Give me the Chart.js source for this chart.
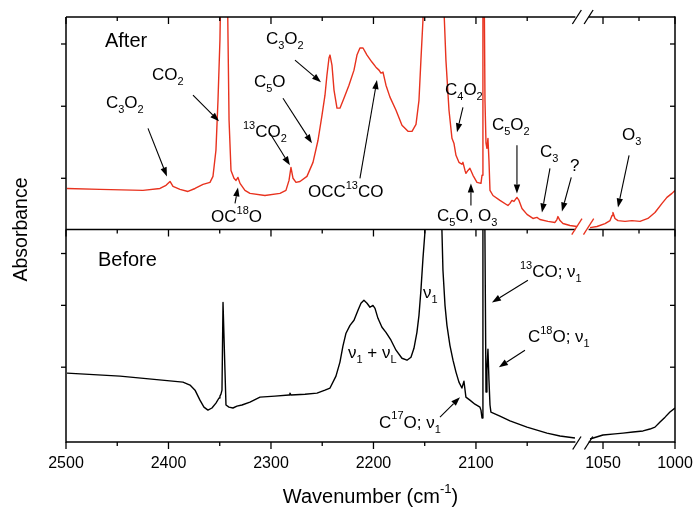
<!DOCTYPE html>
<html><head><meta charset="utf-8">
<script src="https://cdn.jsdelivr.net/npm/chart.js@4.4.0/dist/chart.umd.min.js"></script>
<style>html,body{margin:0;padding:0;background:#fff}#wrap{width:695px;height:508px}</style>
</head><body><div id="wrap"><canvas id="c" width="695" height="508"></canvas></div>
<script>
// ---------------- data (wavenumber in cm-1, absorbance in arbitrary units) ----------------
const afterHighWn = [2499.0,2466.8,2424.9,2408.3,2402.4,2398.5,2395.6,2388.8,2381.0,2374.1,2366.3,2359.5,2356.6,2353.7,2351.7,2349.8,2348.8,2347.8,2342.9,2341.9,2340.9,2339.0,2336.1,2334.1,2332.2,2330.2,2325.4,2320.5,2305.9,2291.2,2285.4,2282.4,2280.5,2278.5,2275.6,2271.7,2264.9,2259.0,2254.1,2250.2,2247.3,2245.4,2243.4,2242.4,2240.5,2238.5,2235.6,2232.7,2228.8,2223.9,2219.0,2216.1,2213.2,2210.2,2206.3,2201.5,2197.6,2194.6,2192.7,2190.7,2187.8,2183.9,2178.0,2172.2,2166.3,2162.4,2158.5,2155.6,2153.7,2151.7,2150.7,2132.2,2131.2,2129.3,2126.3,2123.4,2121.5,2119.5,2116.6,2113.7,2112.7,2110.7,2109.8,2107.8,2105.9,2102.9,2099.0,2095.1,2094.1,2093.2,2092.2,2091.2,2090.2,2089.3,2088.3,2087.3,2086.3,2083.4,2076.6,2068.8,2066.8,2064.9,2062.9,2060.0,2058.0,2055.1,2050.2,2044.4,2040.5,2037.6,2029.8,2022.9,2021.0,2020.0,2018.0,2015.1,2008.3,2001.5];
const afterHighAbs = [0.193,0.189,0.184,0.193,0.208,0.226,0.203,0.189,0.179,0.193,0.212,0.222,0.250,0.373,0.608,0.892,1.2,1.3,1.3,0.892,0.514,0.278,0.241,0.231,0.245,0.217,0.184,0.170,0.160,0.170,0.184,0.231,0.292,0.241,0.222,0.226,0.250,0.316,0.420,0.538,0.632,0.726,0.807,0.821,0.774,0.656,0.571,0.571,0.618,0.679,0.750,0.821,0.854,0.854,0.821,0.788,0.764,0.750,0.736,0.741,0.679,0.623,0.561,0.491,0.462,0.462,0.495,0.608,0.797,0.986,1.3,1.3,1.033,0.797,0.561,0.429,0.406,0.349,0.316,0.307,0.316,0.278,0.264,0.278,0.288,0.255,0.222,0.217,0.255,1.3,1.3,0.608,0.406,0.382,0.429,0.325,0.184,0.160,0.137,0.113,0.123,0.137,0.132,0.151,0.137,0.099,0.071,0.052,0.057,0.047,0.038,0.033,0.047,0.061,0.042,0.028,0.019,0.014];
const afterLowWn  = [1059.0,1054.2,1048.6,1045.1,1043.75,1043.1,1041.7,1039.6,1034.7,1029.9,1024.3,1018.8,1013.9,1009.0,1005.6,1002.1,1000.0];
const afterLowAbs = [0.009,0.014,0.028,0.042,0.066,0.080,0.052,0.042,0.038,0.042,0.038,0.052,0.080,0.123,0.151,0.170,0.184];

const beforeHighWn = [2499.0,2447.3,2385.9,2379.0,2374.1,2369.3,2365.4,2361.5,2357.6,2353.7,2350.7,2349.8,2348.8,2347.8,2346.8,2345.9,2344.9,2343.9,2341.0,2337.1,2333.2,2328.3,2320.5,2310.7,2296.1,2282.4,2281.5,2280.5,2266.8,2255.1,2247.3,2242.4,2236.6,2232.7,2229.8,2226.8,2222.9,2219.0,2215.1,2212.2,2209.3,2206.3,2203.4,2200.5,2198.5,2195.6,2191.7,2187.8,2182.9,2178.0,2172.2,2167.3,2163.4,2160.5,2157.6,2155.6,2153.7,2151.7,2149.8,2148.8,2134.2,2133.2,2132.2,2130.2,2128.3,2125.4,2122.4,2119.5,2116.6,2113.7,2111.7,2109.8,2105.9,2101.0,2096.1,2095.1,2094.1,2093.2,2091.7,2090.2,2089.3,2088.3,2087.3,2086.3,2085.4,2076.6,2066.8,2050.2,2030.7,2018.0,2003.4];
const beforeHighAbs = [0.324,0.310,0.282,0.268,0.244,0.197,0.164,0.150,0.160,0.183,0.207,0.216,0.225,0.244,0.657,0.657,0.338,0.174,0.164,0.160,0.169,0.174,0.188,0.211,0.216,0.221,0.230,0.221,0.225,0.230,0.244,0.254,0.310,0.376,0.451,0.512,0.549,0.573,0.620,0.653,0.667,0.653,0.634,0.643,0.629,0.582,0.540,0.516,0.479,0.432,0.394,0.385,0.399,0.441,0.516,0.596,0.714,0.864,0.986,1.3,1.3,0.995,0.808,0.643,0.549,0.455,0.385,0.329,0.282,0.254,0.286,0.211,0.197,0.178,0.164,0.150,0.113,1.3,1.3,0.235,0.338,0.437,0.291,0.174,0.141,0.122,0.099,0.070,0.042,0.028,0.019];
const beforeLowWn  = [1059.0,1050.0,1041.7,1036.1,1029.2,1022.2,1017.4,1013.9,1010.4,1006.9,1003.5,1000.0];
const beforeLowAbs = [0.014,0.033,0.038,0.042,0.047,0.052,0.061,0.070,0.094,0.117,0.141,0.160];

// axis ticks
const xMajorHigh = [2500, 2400, 2300, 2200, 2100];
const xMinorHigh = [2450, 2350, 2250, 2150, 2050];
const xMajorLow  = [1050, 1000];
const xMinorLow  = [1025];
const xHighRange = [1995, 2500];
const xLowRange  = [1000, 1063.5];
const breakHigh = 2003, breakLow = 1060;
const yTicksAfter  = [0.241, 0.580, 0.873];
const yTicksBefore = [0.352, 0.643, 0.887];

// annotations: [wavenumber, absorbance] in the panel's own units
const notesAfter = [
  {text:'After', at:[2462,0.858], size:20},
  {text:'C_{3}O_{2}', at:[2461,0.571], tail:[2420,0.476], tip:[2401.5,0.250]},
  {text:'CO_{2}', at:[2416.1,0.703], tail:[2376.1,0.632], tip:[2350.7,0.509]},
  {text:'OC^{18}O', at:[2358.5,0.033], tail:[2335.1,0.123], tip:[2332.2,0.198]},
  {text:'^{13}CO_{2}', at:[2327.3,0.434], tail:[2301.0,0.453], tip:[2281.5,0.302]},
  {text:'C_{5}O', at:[2316.6,0.670], tail:[2288.3,0.618], tip:[2260.0,0.406]},
  {text:'C_{3}O_{2}', at:[2304.9,0.873], tail:[2276.6,0.797], tip:[2251.2,0.693]},
  {text:'OCC^{13}CO', at:[2263.9,0.151], tail:[2213.2,0.241], tip:[2196.6,0.703]},
  {text:'C_{4}O_{2}', at:[2130.2,0.632], tail:[2112.7,0.575], tip:[2118.5,0.458]},
  {text:'C_{5}O, O_{3}', at:[2138.0,0.042], tail:[2104.9,0.113], tip:[2104.9,0.217]},
  {text:'C_{5}O_{2}', at:[2084.4,0.467], tail:[2060.0,0.396], tip:[2060.0,0.170]},
  {text:'C_{3}', at:[2037.6,0.340], tail:[2027.8,0.288], tip:[2035.6,0.080]},
  {text:'?', at:[2008.3,0.274], tail:[2007.0,0.245], tip:[2016.1,0.085]},
  {text:'O_{3}', at:[1036.8,0.420], tail:[1031.9,0.349], tip:[1039.6,0.104]}
];
const notesBefore = [
  {text:'Before', at:[2468.8,0.826], size:20},
  {text:'ν_{1}', at:[2151.7,0.676]},
  {text:'ν_{1} + ν_{L}', at:[2224.9,0.394]},
  {text:'^{13}CO; ν_{1}', at:[2057.1,0.775], tail:[2049.3,0.761], tip:[2084.4,0.657]},
  {text:'C^{18}O; ν_{1}', at:[2049.3,0.469], tail:[2052.2,0.432], tip:[2077.6,0.352]},
  {text:'C^{17}O; ν_{1}', at:[2194.6,0.066], tail:[2135.1,0.117], tip:[2115.6,0.211]}
];

// ---------------- drawing ----------------
const RED = '#e8321e';
const FONT = "'Liberation Sans', Arial, Helvetica, sans-serif";
Chart.defaults.font.family = FONT;

const pts = (wn, ab) => wn.map((w, i) => ({x: w, y: ab[i]}));

function drawRich(ctx, str, x, y, size, color, align) {
  const tokens = [];
  const re = /([_^])\{([^}]*)\}|([^_^]+)/g; let m;
  while ((m = re.exec(str))) {
    if (m[3] !== undefined) tokens.push({t: m[3], k: 'n'});
    else tokens.push({t: m[2], k: m[1] === '_' ? 'sub' : 'sup'});
  }
  const small = Math.round(size * 0.65);
  let w = 0;
  tokens.forEach(tk => { ctx.font = (tk.k === 'n' ? size : small) + 'px ' + FONT; tk.w = ctx.measureText(tk.t).width; w += tk.w; });
  let cx = align === 'center' ? x - w / 2 : x;
  ctx.fillStyle = color; ctx.textBaseline = 'alphabetic'; ctx.textAlign = 'left';
  tokens.forEach(tk => {
    ctx.font = (tk.k === 'n' ? size : small) + 'px ' + FONT;
    const dy = tk.k === 'sub' ? size * 0.3 : tk.k === 'sup' ? -size * 0.5 : 0;
    ctx.fillText(tk.t, cx, y + dy); cx += tk.w;
  });
}

function line(ctx, x1, y1, x2, y2) { ctx.beginPath(); ctx.moveTo(x1, y1); ctx.lineTo(x2, y2); ctx.stroke(); }

function arrow(ctx, x1, y1, x2, y2) {
  const ang = Math.atan2(y2 - y1, x2 - x1), L = 9, W = 3.2;
  const bx = x2 - L * Math.cos(ang), by = y2 - L * Math.sin(ang);
  ctx.lineWidth = 1.1; ctx.strokeStyle = '#000';
  line(ctx, x1, y1, bx, by);
  ctx.beginPath(); ctx.moveTo(x2, y2);
  ctx.lineTo(bx + W * Math.sin(ang), by - W * Math.cos(ang));
  ctx.lineTo(bx - W * Math.sin(ang), by + W * Math.cos(ang));
  ctx.closePath(); ctx.fillStyle = '#000'; ctx.fill();
}

function slashes(ctx, xa, xb, cy, h, color) {
  ctx.strokeStyle = color; ctx.lineWidth = 1.3;
  [xa, xb].forEach(cx => line(ctx, cx - h * 0.32, cy + h / 2, cx + h * 0.32, cy - h / 2));
}

const framePlugin = {
  id: 'frame',
  beforeDatasetDraw(chart, args) {
    const m = args.meta, ctx = chart.ctx;
    ctx.save(); ctx.beginPath();
    ctx.rect(m.xScale.left, m.yScale.top, m.xScale.width, m.yScale.height); ctx.clip();
  },
  afterDatasetDraw(chart) { chart.ctx.restore(); },
  afterDraw(chart) {
    const ctx = chart.ctx, s = chart.scales;
    const xh = s.xh, xl = s.xl, ya = s.ya, yb = s.yb;
    const L = xh.left, R = xl.right, T = ya.top, M = ya.bottom, B = yb.bottom;
    const gL = xh.getPixelForValue(breakHigh), gR = xl.getPixelForValue(breakLow);
    ctx.save();
    ctx.strokeStyle = '#000'; ctx.lineWidth = 1.5; ctx.lineCap = 'butt';
    // frame
    line(ctx, L, T, L, B + 0.75); line(ctx, R, T - 0.75, R, B + 0.75);
    [T, M, B].forEach(y => { line(ctx, L, y, gL, y); line(ctx, gR, y, R, y); });
    // x ticks
    ctx.lineWidth = 1.3;
    const xt = (sc, vals, len) => vals.forEach(v => {
      const x = sc.getPixelForValue(v);
      line(ctx, x, B, x, B + len); line(ctx, x, T, x, T + len); line(ctx, x, M, x, M + len);
    });
    xt(xh, xMajorHigh, 7); xt(xh, xMinorHigh, 4); xt(xl, xMajorLow, 7); xt(xl, xMinorLow, 4);
    // y ticks
    const yt = (sc, vals) => vals.forEach(v => {
      const y = sc.getPixelForValue(v);
      line(ctx, L - 5, y, L, y); line(ctx, R - 5, y, R, y);
    });
    yt(ya, yTicksAfter); yt(yb, yTicksBefore);
    // break marks
    const sa = gL + 1.5, sb = gR;
    slashes(ctx, sa, sb, T, 14, '#000');
    slashes(ctx, sa, sb, B + 1, 13, '#000');
    slashes(ctx, sa, sb, ya.getPixelForValue(afterHighAbs[afterHighAbs.length - 1]), 16, RED);
    // axis titles
    drawRich(ctx, 'Wavenumber (cm^{-1})', (L + R) / 2, 503, 20, '#000', 'center');
    ctx.save(); ctx.translate(22, (T + B) / 2); ctx.rotate(-Math.PI / 2);
    ctx.font = '19.5px ' + FONT; ctx.fillStyle = '#000'; ctx.textAlign = 'center'; ctx.textBaseline = 'middle';
    ctx.fillText('Absorbance', 0, 0); ctx.restore();
    // annotations
    const px = (p, sc) => [ (p[0] > 1500 ? xh : xl).getPixelForValue(p[0]), sc.getPixelForValue(p[1]) ];
    const notes = (list, sc) => list.forEach(n => {
      const a = px(n.at, sc);
      drawRich(ctx, n.text, a[0], a[1], n.size || 17, '#000', 'left');
      if (n.tip) { const t = px(n.tail, sc), h = px(n.tip, sc); arrow(ctx, t[0], t[1], h[0], h[1]); }
    });
    notes(notesAfter, ya); notes(notesBefore, yb);
    ctx.restore();
  }
};

const lineDs = (data, xId, yId, color) => ({
  data, xAxisID: xId, yAxisID: yId, borderColor: color, borderWidth: 1.4,
  pointRadius: 0, tension: 0, fill: false, borderJoinStyle: 'round'
});

const xTickOpts = (major) => ({
  type: 'linear', position: 'bottom', stack: 'x', reverse: true,
  grid: {display: false, drawTicks: false}, border: {display: false},
  ticks: {padding: 12, color: '#000', font: {size: 16}, maxRotation: 0, autoSkip: false, callback: v => String(v)},
  afterBuildTicks: sc => { sc.ticks = major.map(v => ({value: v})); },
  afterFit: sc => { sc.height = 66; sc.paddingLeft = 0; sc.paddingRight = 0; }
});

const yOpts = (w) => ({
  type: 'linear', position: 'left', stack: 'y', stackWeight: 1, weight: w, min: 0, max: 1,
  grid: {display: false, drawTicks: false}, border: {display: false},
  ticks: {display: false}, afterFit: sc => { sc.width = 0; }
});

new Chart(document.getElementById('c'), {
  type: 'line',
  data: {datasets: [
    lineDs(pts(afterHighWn, afterHighAbs), 'xh', 'ya', RED),
    lineDs(pts(afterLowWn, afterLowAbs), 'xl', 'ya', RED),
    lineDs(pts(beforeHighWn, beforeHighAbs), 'xh', 'yb', '#000'),
    lineDs(pts(beforeLowWn, beforeLowAbs), 'xl', 'yb', '#000')
  ]},
  options: {
    responsive: false, animation: false, devicePixelRatio: 1,
    layout: {padding: {left: 66, right: 20, top: 17, bottom: 0}},
    plugins: {legend: {display: false}, tooltip: {enabled: false}},
    scales: {
      xh: Object.assign(xTickOpts(xMajorHigh), {min: xHighRange[0], max: xHighRange[1], weight: 1,
            stackWeight: (xHighRange[1] - xHighRange[0]) * 1.025}),
      xl: Object.assign(xTickOpts(xMajorLow), {min: xLowRange[0], max: xLowRange[1], weight: 2,
            stackWeight: (xLowRange[1] - xLowRange[0]) * 1.44}),
      ya: yOpts(2),
      yb: yOpts(1)
    }
  },
  plugins: [framePlugin]
});
</script>
</body></html>
